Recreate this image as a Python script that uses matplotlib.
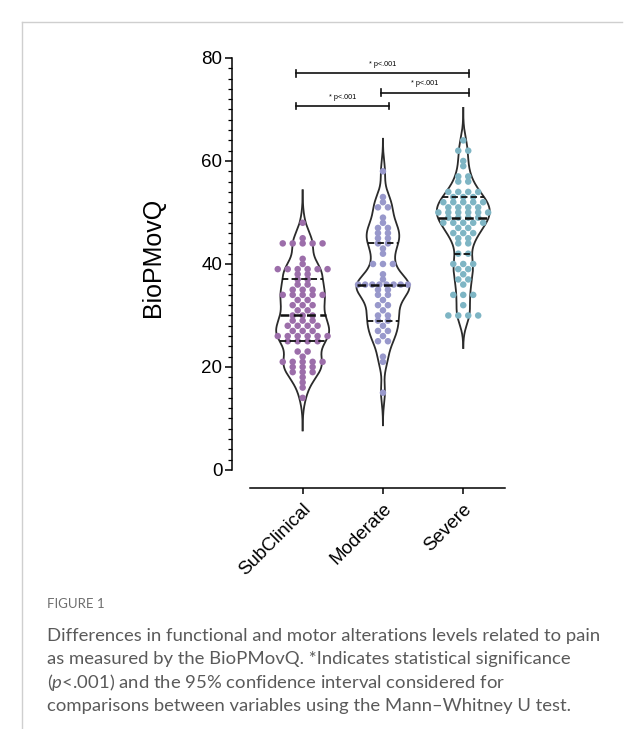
import numpy as np
import matplotlib.pyplot as plt
from matplotlib.ticker import MultipleLocator, FixedLocator

plt.rcParams['font.family'] = ['Liberation Sans', 'DejaVu Sans']
plt.rcParams['mathtext.fontset'] = 'custom'
plt.rcParams['mathtext.rm'] = 'Lato'
plt.rcParams['mathtext.it'] = 'Lato:italic'

# data (score value -> number of subjects)
groups = ['SubClinical', 'Moderate', 'Severe']
dot_colors = ['#9c6eaa', '#9898cb', '#7eb5c4']

sub_values = [48, 45, 44, 41, 40, 39, 38, 37, 36, 35, 34, 33, 32, 31, 30, 29, 28, 27, 26, 25, 23, 22, 21, 20, 19, 18, 17, 16, 14]
sub_counts = [1, 1, 5, 1, 1, 6, 2, 2, 2, 3, 5, 2, 3, 2, 3, 3, 4, 3, 6, 4, 2, 1, 5, 3, 3, 1, 1, 1, 1]

mod_values = [58, 53, 52, 51, 49, 48, 47, 46, 45, 44, 43, 42, 40, 38, 37, 36, 35, 34, 33, 32, 31, 30, 29, 28, 27, 26, 25, 22, 21, 15]
mod_counts = [1, 1, 1, 2, 1, 1, 2, 2, 2, 2, 1, 1, 3, 1, 1, 8, 2, 2, 1, 2, 1, 2, 2, 1, 2, 1, 2, 1, 1, 1]

sev_values = [64, 62, 60, 59, 57, 56, 54, 53, 52, 51, 50, 49, 48, 47, 46, 45, 44, 42, 40, 39, 38, 37, 36, 34, 32, 30]
sev_counts = [1, 2, 1, 1, 2, 2, 4, 3, 5, 4, 6, 4, 5, 2, 3, 2, 2, 2, 3, 2, 1, 2, 1, 3, 1, 4]

# quartile lines (Q1, median, Q3) as drawn in the figure
sub_quart = [25, 30, 37]
mod_quart = [29, 36, 44]
sev_quart = [42, 49, 53]

# significance brackets: (left group, right group, height)
brackets = [(0, 2, 77.0), (1, 2, 73.3), (0, 1, 70.7)]
bracket_label = '* p<.001'

all_values = [sub_values, mod_values, sev_values]
all_counts = [sub_counts, mod_counts, sev_counts]
all_quart = [sub_quart, mod_quart, sev_quart]

fig = plt.figure(figsize=(6.44, 7.29), dpi=100)
ax = fig.add_axes([232 / 644, 1 - 488 / 729, 273 / 644, (488 - 47.7) / 729])

bw = 2.1
half = 0.33
for i, (vals, cnts, q) in enumerate(zip(all_values, all_counts, all_quart)):
    scores = np.repeat(vals, cnts).astype(float)
    grid = np.linspace(scores.min() - 3.0 * bw, scores.max() + 3.0 * bw, 400)
    dens = np.exp(-0.5 * ((grid[:, None] - scores[None, :]) / bw) ** 2).sum(axis=1)
    w = half * dens / dens.max()
    ax.plot(i - w, grid, color='#2b2b2b', lw=1.3, zorder=2)
    ax.plot(i + w, grid, color='#2b2b2b', lw=1.3, zorder=2)

    # dots, one row per score
    for v, n in zip(vals, cnts):
        s = 0.124 if n < 2 else min(0.124, 0.62 / (n - 1))
        xs = i + (np.arange(n) - (n - 1) / 2) * s
        ax.scatter(xs, [v] * n, s=22, color=dot_colors[i], edgecolors='none', zorder=3)

    # median / quartile lines
    for k, qv in enumerate(q):
        wq = np.interp(qv, grid, w)
        ax.plot([i - wq, i + wq], [qv, qv], color='#111111',
                lw=1.8 if k == 1 else 1.3, ls=(0, (3.5, 1.8)), zorder=4)

for a, b, y in brackets:
    x0 = a - 0.08 if a == 0 else a - 0.02
    x1 = b + 0.07
    ax.plot([x0, x1], [y, y], color='#111111', lw=1.2, clip_on=False)
    ax.plot([x0, x0], [y - 0.6, y + 0.6], color='#111111', lw=1.2, clip_on=False)
    ax.plot([x1, x1], [y - 0.6, y + 0.6], color='#111111', lw=1.2, clip_on=False)
    ax.text((x0 + x1) / 2, y + 1.0, bracket_label, ha='center', va='bottom', fontsize=5.2)

ax.set_xlim(-0.88, 2.52)
ax.set_ylim(-3.5, 82)
ax.spines['top'].set_visible(False)
ax.spines['right'].set_visible(False)
ax.spines['left'].set_bounds(0, 80)
ax.spines['bottom'].set_bounds(-0.656, 2.52)
ax.spines['left'].set_linewidth(1.1)
ax.spines['bottom'].set_linewidth(1.1)

ax.yaxis.set_major_locator(MultipleLocator(20))
ax.yaxis.set_minor_locator(FixedLocator([t for t in range(0, 81, 2) if t % 20]))
ax.tick_params(axis='y', which='major', length=5, width=1.1, labelsize=13.5, pad=2)
ax.tick_params(axis='y', which='minor', length=3, width=0.9)
ax.set_xticks(range(len(groups)))
ax.set_xticklabels(groups, rotation=45, ha='right', rotation_mode='anchor', fontsize=13.5)
ax.tick_params(axis='x', length=4, width=1.1, pad=5)
ax.set_ylabel('BioPMovQ', fontsize=18, labelpad=26)
ax.yaxis.label.set_y(0.523)

# panel frame
fig.add_artist(plt.Line2D([22 / 644, 22 / 644], [0, 1 - 22 / 729], color='#cfcfcf', lw=1))
fig.add_artist(plt.Line2D([22 / 644, 622 / 644], [1 - 22 / 729, 1 - 22 / 729], color='#cfcfcf', lw=1))

cap_font = 'Lato'
fig.text(47 / 644, 1 - 604 / 729, 'FIGURE 1', family=cap_font, fontsize=9.5,
         color='#6e6e6e', va='center')
caption = [
    'Differences in functional and motor alterations levels related to pain',
    'as measured by the BioPMovQ. *Indicates statistical significance',
    r'($\mathit{p}$<.001) and the 95% confidence interval considered for',
    'comparisons between variables using the Mann\u2013Whitney U test.',
]
for j, line in enumerate(caption):
    fig.text(47 / 644, 1 - (636 + 23.3 * j) / 729, line, family=cap_font,
             fontsize=13.3, color='#5a5a5a', va='center')

fig.savefig('out.png', dpi=100)
